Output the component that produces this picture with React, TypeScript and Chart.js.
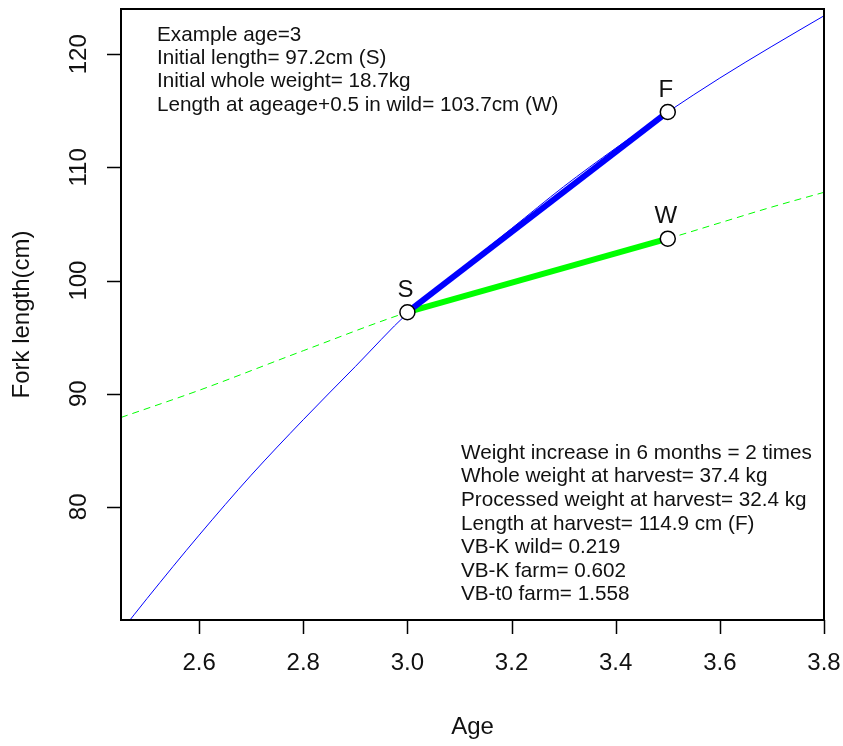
import React, { useEffect, useRef } from "react";
import { Chart, registerables } from "chart.js";

Chart.register(...registerables);

// Farm (VB) growth curve
const farmAges = [2.45, 2.5, 2.6, 2.7, 2.8, 2.9, 3.0, 3.1, 3.2, 3.3, 3.4, 3.5, 3.6, 3.7, 3.8];
const farmLengths = [69.0, 71.9, 77.5, 82.8, 87.7, 92.4, 97.1, 100.9, 104.6, 108.3, 111.7, 114.9, 117.9, 120.7, 123.4];

// Wild growth curve (dashed)
const wildAges = [2.45, 2.6, 2.8, 3.0, 3.2, 3.4, 3.5, 3.6, 3.7, 3.8];
const wildLengths = [87.9, 90.3, 93.8, 97.2, 99.9, 102.4, 103.7, 105.1, 106.5, 107.8];

// Marked points S, F, W
const markLabels = ["S", "F", "W"];
const markAges = [3.0, 3.5, 3.5];
const markLengths = [97.2, 114.9, 103.7];

const xTicks = [2.6, 2.8, 3.0, 3.2, 3.4, 3.6, 3.8];
const xTickLabels = ["2.6", "2.8", "3.0", "3.2", "3.4", "3.6", "3.8"];
const yTicks = [80, 90, 100, 110, 120];
const yTickLabels = ["80", "90", "100", "110", "120"];

const xTitle = "Age";
const yTitle = "Fork length(cm)";

const topNotes = [
  "Example age=3",
  "Initial length= 97.2cm (S)",
  "Initial whole weight= 18.7kg",
  "Length at ageage+0.5 in wild= 103.7cm (W)",
];
const bottomNotes = [
  "Weight increase in 6 months = 2 times",
  "Whole weight at harvest= 37.4 kg",
  "Processed weight at harvest= 32.4 kg",
  "Length at harvest= 114.9 cm (F)",
  "VB-K wild= 0.219",
  "VB-K farm= 0.602",
  "VB-t0 farm= 1.558",
];

const FONT = "'Liberation Sans', Arial, sans-serif";

const decorPlugin = {
  id: "rDecor",
  afterDraw(chart: any) {
    const { ctx, chartArea } = chart;
    const xs = chart.scales.x;
    const ys = chart.scales.y;
    const { left, right, top, bottom } = chartArea;
    ctx.save();
    // box
    ctx.strokeStyle = "#000";
    ctx.lineWidth = 2;
    ctx.strokeRect(left, top, right - left, bottom - top);
    // ticks
    ctx.lineWidth = 1.5;
    ctx.beginPath();
    xTicks.forEach((v) => {
      const px = Math.round(xs.getPixelForValue(v)) + 0.5;
      ctx.moveTo(px, bottom);
      ctx.lineTo(px, bottom + 14);
    });
    yTicks.forEach((v) => {
      const py = Math.round(ys.getPixelForValue(v)) + 0.5;
      ctx.moveTo(left, py);
      ctx.lineTo(left - 14, py);
    });
    ctx.stroke();

    ctx.fillStyle = "#111";
    ctx.font = `24px ${FONT}`;
    ctx.textAlign = "center";
    ctx.textBaseline = "middle";
    xTicks.forEach((v, i) => {
      ctx.fillText(xTickLabels[i], xs.getPixelForValue(v), 663);
    });
    yTicks.forEach((v, i) => {
      ctx.save();
      ctx.translate(79, ys.getPixelForValue(v));
      ctx.rotate(-Math.PI / 2);
      ctx.fillText(yTickLabels[i], 0, 0);
      ctx.restore();
    });
    // axis titles
    ctx.fillText(xTitle, (left + right) / 2, 727);
    ctx.save();
    ctx.translate(22, (top + bottom) / 2);
    ctx.rotate(-Math.PI / 2);
    ctx.fillText(yTitle, 0, 0);
    ctx.restore();

    // point labels
    markLabels.forEach((lab, i) => {
      ctx.fillText(lab, xs.getPixelForValue(markAges[i]) - 2, ys.getPixelForValue(markLengths[i]) - 22);
    });

    // notes
    ctx.font = `20.7px ${FONT}`;
    ctx.textAlign = "left";
    topNotes.forEach((t, i) => ctx.fillText(t, 157, 35 + i * 23.3));
    bottomNotes.forEach((t, i) => ctx.fillText(t, 461, 453 + i * 23.6));
    ctx.restore();
  },
};

export default function App() {
  const ref = useRef<HTMLCanvasElement | null>(null);
  useEffect(() => {
    document.body.style.margin = "0";
    const canvas = ref.current;
    if (!canvas) return;
    const pts = (xs: number[], ys: number[]) => xs.map((x, i) => ({ x, y: ys[i] }));
    const chart = new Chart(canvas, {
      type: "line",
      data: {
        datasets: [
          {
            label: "marks",
            data: pts(markAges, markLengths),
            showLine: false,
            pointRadius: 7.5,
            pointBackgroundColor: "#ffffff",
            pointBorderColor: "#000000",
            pointBorderWidth: 1.5,
            pointStyle: "circle",
            order: 0,
          } as any,
          {
            label: "S-F",
            data: pts([markAges[0], markAges[1]], [markLengths[0], markLengths[1]]),
            borderColor: "#0000ff",
            borderWidth: 6,
            pointRadius: 0,
            order: 1,
          },
          {
            label: "S-W",
            data: pts([markAges[0], markAges[2]], [markLengths[0], markLengths[2]]),
            borderColor: "#00ff00",
            borderWidth: 6,
            pointRadius: 0,
            order: 1,
          },
          {
            label: "farm",
            data: pts(farmAges, farmLengths),
            borderColor: "#0000ff",
            borderWidth: 1,
            pointRadius: 0,
            cubicInterpolationMode: "monotone",
            order: 2,
          },
          {
            label: "wild",
            data: pts(wildAges, wildLengths),
            borderColor: "#00ff00",
            borderWidth: 1,
            borderDash: [7, 5],
            pointRadius: 0,
            cubicInterpolationMode: "monotone",
            order: 2,
          },
        ],
      },
      options: {
        animation: false,
        responsive: false,
        devicePixelRatio: 1,
        layout: { padding: { left: 0, right: 19, top: 7, bottom: 0 } },
        plugins: { legend: { display: false }, tooltip: { enabled: false } },
        scales: {
          x: {
            type: "linear",
            min: 2.45,
            max: 3.8,
            ticks: { display: false },
            grid: { display: false },
            border: { display: false },
            afterFit: (s: any) => {
              s.height = 126;
            },
          },
          y: {
            type: "linear",
            min: 70,
            max: 124,
            ticks: { display: false },
            grid: { display: false },
            border: { display: false },
            afterFit: (s: any) => {
              s.width = 121;
            },
          },
        },
      },
      plugins: [decorPlugin],
    });
    return () => chart.destroy();
  }, []);
  return (
    <canvas
      ref={ref}
      width={843}
      height={746}
      style={{ display: "block", width: 843, height: 746 }}
    />
  );
}
